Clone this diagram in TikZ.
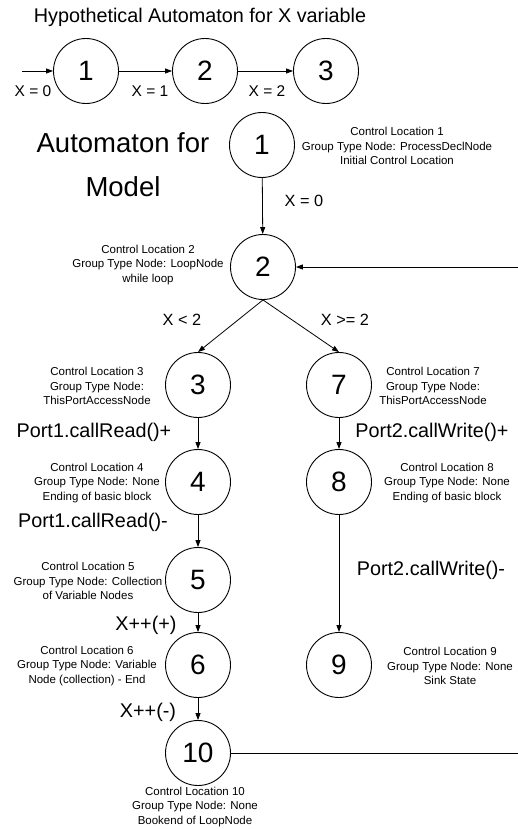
\documentclass[tikz,border=0pt]{standalone}
\usepackage{fontspec}
\setmainfont{Liberation Sans}
\usetikzlibrary{arrows.meta}
\begin{document}
\begin{tikzpicture}[x=1pt,y=-1pt,
  state/.style={circle,draw,line width=0.9pt,minimum size=65pt,inner sep=0pt,font=\fontsize{28}{28}\selectfont},
  info/.style={align=center,font=\fontsize{11.5}{14.2}\selectfont,inner sep=0pt},
  guard/.style={font=\fontsize{16.3}{16.3}\selectfont,inner sep=0pt},
  smallguard/.style={font=\fontsize{15.5}{15.5}\selectfont,inner sep=0pt},
  call/.style={font=\fontsize{19.8}{19.8}\selectfont,inner sep=0pt},
  heading/.style={font=\fontsize{19.8}{19.8}\selectfont,inner sep=0pt},
  bigtitle/.style={align=center,font=\fontsize{27.5}{44}\selectfont,inner sep=0pt},
  arr/.style={-{Triangle[length=7pt,width=5pt]},line width=0.8pt},
  wire/.style={line width=0.8pt}]
\useasboundingbox (0,0) rectangle (518,829);

% ---- automaton for the variable X ----
\node[heading] (htitle) at (200,17) {Hypothetical Automaton for X variable};
\node[state] (x1) at (86,71) {1};
\node[state] (x2) at (205,71) {2};
\node[state] (x3) at (326,71) {3};
\coordinate (xin) at (22,71);
\draw[arr] (xin) -- (x1);
\draw[arr] (x1) -- (x2);
\draw[arr] (x2) -- (x3);
\node[smallguard] (gx0) at (33,91) {X = 0};
\node[smallguard] (gx1) at (150,91) {X = 1};
\node[smallguard] (gx2) at (267,91) {X = 2};

% ---- automaton for the model ----
\node[bigtitle] (mtitle) at (123,165) {Automaton for\\Model};

\node[state] (c1) at (262,145) {1};
\node[state] (c2) at (263,267) {2};
\node[state] (c3) at (198,385) {3};
\node[state] (c7) at (339,385) {7};
\node[state] (c4) at (198,482) {4};
\node[state] (c8) at (339,482) {8};
\node[state] (c5) at (198,580) {5};
\node[state] (c6) at (198,665) {6};
\node[state] (c9) at (339,665) {9};
\node[state] (c10) at (198,753) {10};

\node[info] (i1) at (397,146) {Control Location 1\\Group Type Node: ProcessDeclNode\\Initial Control Location};
\node[info] (i2) at (148,265) {Control Location 2\\Group Type Node: LoopNode\\while loop};
\node[info] (i3) at (97,386) {Control Location 3\\Group Type Node:\\ThisPortAccessNode};
\node[info] (i7) at (433,386) {Control Location 7\\Group Type Node:\\ThisPortAccessNode};
\node[info] (i4) at (97,483) {Control Location 4\\Group Type Node: None\\Ending of basic block};
\node[info] (i8) at (447,483) {Control Location 8\\Group Type Node: None\\Ending of basic block};
\node[info] (i5) at (88,581) {Control Location 5\\Group Type Node: Collection\\of Variable Nodes};
\node[info] (i6) at (87,666) {Control Location 6\\Group Type Node: Variable\\Node (collection) - End};
\node[info] (i9) at (450,666) {Control Location 9\\Group Type Node: None\\Sink State};
\node[info] (i10) at (195,807) {Control Location 10\\Group Type Node: None\\Bookend of LoopNode};

\coordinate (back2) at (518,267);
\coordinate (back10) at (518,753);

\draw[arr] (c1) -- (c2);
\draw[arr] (c2.south) -- (c3.north);
\draw[arr] (c2.south) -- (c7.north);
\draw[arr] (c3) -- (c4);
\draw[arr] (c4) -- (c5);
\draw[arr] (c5) -- (c6);
\draw[arr] (c6) -- (c10);
\draw[arr] (c7) -- (c8);
\draw[arr] (c8) -- (c9);
\draw[wire] (c10) -- (back10);
\draw[arr] (back2) -- (c2);

\node[guard] (g10) at (304,201) {X = 0};
\node[guard] (g23) at (182,320) {X < 2};
\node[guard] (g27) at (345,320) {X >= 2};
\node[call] (l34) at (94,432) {Port1.callRead()+};
\node[call] (l78) at (432,432) {Port2.callWrite()+};
\node[call] (l45) at (93,522) {Port1.callRead()-};
\node[call] (l89) at (431,570) {Port2.callWrite()-};
\node[call] (l56) at (146,625) {X++(+)};
\node[call] (l610) at (148,712) {X++(-)};
\end{tikzpicture}
\end{document}
